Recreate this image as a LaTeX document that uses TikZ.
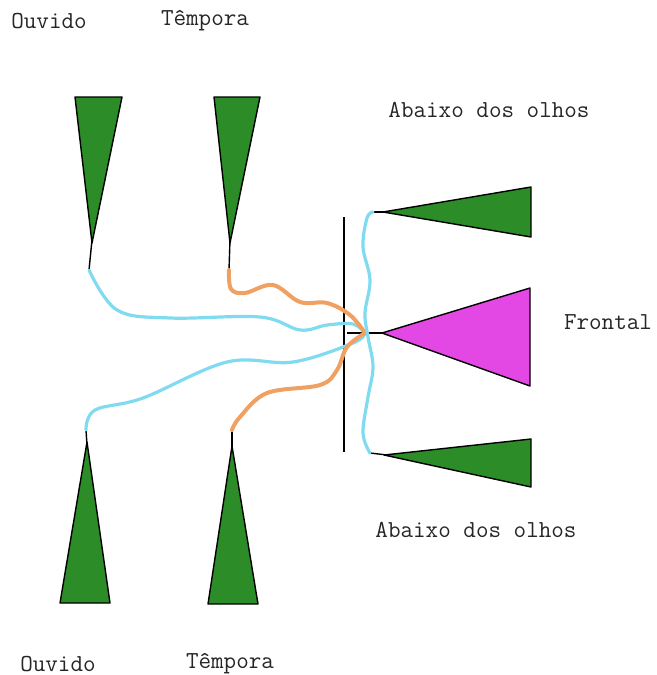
\documentclass[tikz,border=0pt]{standalone}
\usepackage{xcolor}
\usepackage{tikz}
\definecolor{leafgreen}{RGB}{44,140,40}
\definecolor{frontpink}{RGB}{228,72,228}
\definecolor{nerveblue}{RGB}{128,218,240}
\definecolor{nerveorange}{RGB}{240,160,96}

\begin{document}
\begin{tikzpicture}[
  x=0.5pt,y=-0.5pt,
  font=\ttfamily\fontsize{12.2}{14}\selectfont,
  lbl/.style={inner sep=0pt,text=black!85},
  wedge/.style={draw=black,line width=0.7pt,line join=round},
  stem/.style={draw=black,line width=0.7pt},
  blueline/.style={draw=nerveblue,line width=1.6pt,line cap=round},
  orangeline/.style={draw=nerveorange,line width=2pt,line cap=round},
]
\useasboundingbox (0,0) rectangle (657,675);
% labels
\node[lbl] (ouvTopL) at (49,21) {Ouvido};
\node[lbl] (tempTopL) at (205,21) {Têmpora};
\node[lbl] (olhoTopL) at (489,110) {Abaixo dos olhos};
\node[lbl] (frontL) at (608,322) {Frontal};
\node[lbl] (olhoBotL) at (476,530) {Abaixo dos olhos};
\node[lbl] (ouvBotL) at (58,664) {Ouvido};
\node[lbl] (tempBotL) at (230,664) {Têmpora};
% stem ends
\coordinate (ouvTop) at (89,270);
\coordinate (tempTop) at (229,270);
\coordinate (ouvBot) at (86,430);
\coordinate (tempBot) at (232,430);
\coordinate (olhoTop) at (373,212);
\coordinate (olhoBot) at (370,453);
\coordinate (hub) at (365,333);
% wedges
\path[wedge,fill=leafgreen] (75,97) -- (122,97) -- (92,243) -- cycle;
\draw[stem] (92,240) -- (ouvTop);
\path[wedge,fill=leafgreen] (214,97) -- (260,97) -- (230,243) -- cycle;
\draw[stem] (230,240) -- (tempTop);
\path[wedge,fill=leafgreen] (60,603) -- (110,603) -- (87,442) -- cycle;
\draw[stem] (87,445) -- (ouvBot);
\path[wedge,fill=leafgreen] (208,604) -- (258,604) -- (232,446) -- cycle;
\draw[stem] (232,450) -- (tempBot);
\path[wedge,fill=leafgreen] (531,187) -- (531,237) -- (383,212) -- cycle;
\draw[stem] (386,212) -- (olhoTop);
\path[wedge,fill=frontpink] (530,288) -- (530,386) -- (382,333) -- cycle;
\draw[stem] (347,333) -- (385,333);
\path[wedge,fill=leafgreen] (531,439) -- (531,487) -- (384,455) -- cycle;
\draw[stem] (387,455) -- (olhoBot);
% midline
\draw[stem] (344,217) -- (344,452);
% nerves
\draw[blueline] plot[smooth,tension=0.6] coordinates {(ouvTop) (117,310) (170,318) (260,317) (300,330) (327,325) (353,324) (hub)};
\draw[orangeline] plot[smooth,tension=0.6] coordinates {(tempTop) (231,289) (245,293) (273,285) (300,302) (327,303) (350,315) (hub)};
\draw[blueline] plot[smooth,tension=0.6] coordinates {(hub) (353,343) (293,362) (227,362) (143,398) (95,410) (ouvBot)};
\draw[orangeline] plot[smooth,tension=0.6] coordinates {(hub) (347,347) (337,370) (320,385) (267,393) (240,417) (tempBot)};
\draw[blueline] plot[smooth,tension=0.6] coordinates {(olhoTop) (367,218) (363,247) (370,280) (365,313) (368,337) (373,367) (368,397) (363,433) (olhoBot)};
\end{tikzpicture}
\end{document}
